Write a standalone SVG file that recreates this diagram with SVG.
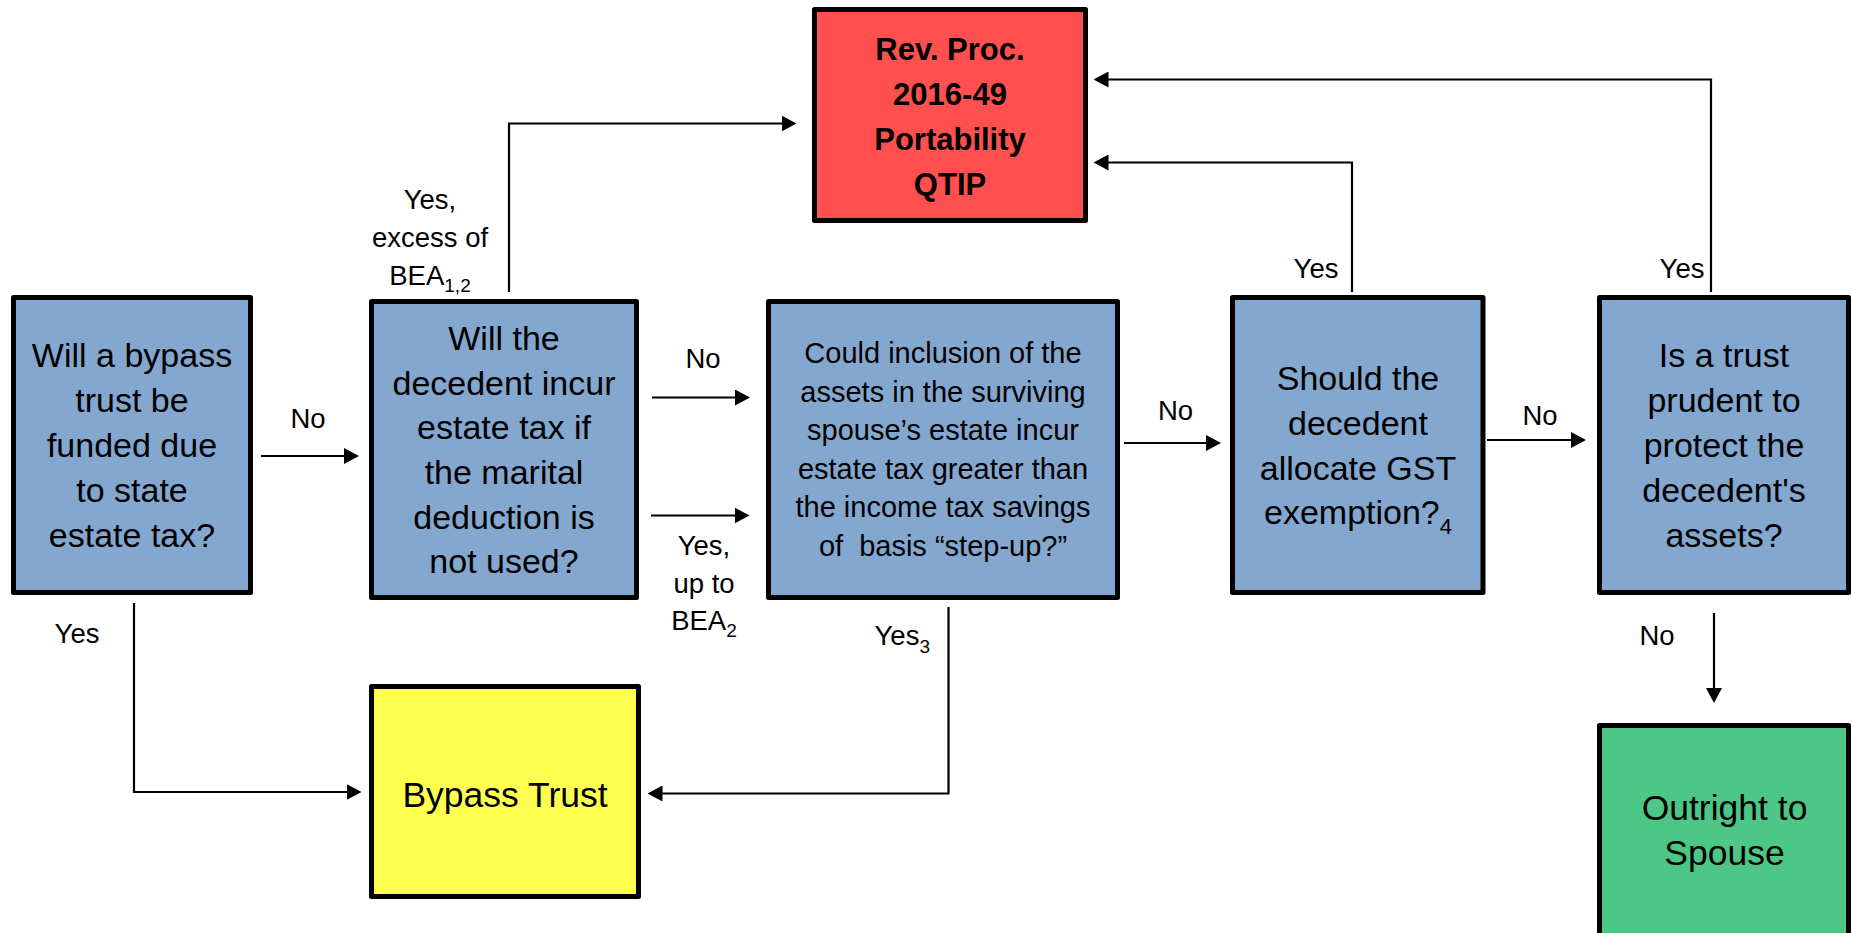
<svg xmlns="http://www.w3.org/2000/svg" width="1852" height="933" viewBox="0 0 1852 933">
<style>
.box{stroke:#000;stroke-width:5;stroke-linejoin:round}
.q{fill:#84A7CF}
.t{font-family:"Liberation Sans",Arial,sans-serif;fill:#000;text-anchor:middle}
.bt{font-size:34px}
.b3{font-size:29px}
.lb{font-size:27.5px}
.rd{font-size:31px;font-weight:bold}
.big{font-size:35.5px}
.con{fill:none;stroke:#000;stroke-width:2.2}
</style>
<defs>
<marker id="arr" markerWidth="15" markerHeight="16" refX="9" refY="8" orient="auto" markerUnits="userSpaceOnUse">
<path d="M0,0 L15,8 L0,16 z" fill="#000"/>
</marker>
</defs>
<rect width="1852" height="933" fill="#fff"/>

<g id="connectors">
<path class="con" marker-end="url(#arr)" d="M261,456 H353"/>
<path class="con" marker-end="url(#arr)" d="M652,397.5 H744"/>
<path class="con" marker-end="url(#arr)" d="M651,515.5 H743.5"/>
<path class="con" marker-end="url(#arr)" d="M1124,443 H1215"/>
<path class="con" marker-end="url(#arr)" d="M1487,440 H1580"/>
<path class="con" marker-end="url(#arr)" d="M509,292 V123.5 H790.5"/>
<path class="con" marker-end="url(#arr)" d="M1352,292 V162.5 H1099.5"/>
<path class="con" marker-end="url(#arr)" d="M1711,292 V79.5 H1099.5"/>
<path class="con" marker-end="url(#arr)" d="M134,603 V792 H355.5"/>
<path class="con" marker-end="url(#arr)" d="M948.5,607 V793.5 H653.5"/>
<path class="con" marker-end="url(#arr)" d="M1714,613 V697"/>
<g class="t lb">
<text x="308" y="428">No</text>
<text x="703" y="368">No</text>
<text x="704" y="555">Yes,</text>
<text x="704" y="592.5">up to</text>
<text x="704" y="630">BEA<tspan dy="7" font-size="19">2</tspan></text>
<text x="1175.5" y="420">No</text>
<text x="1540" y="425">No</text>
<text x="430" y="208.5">Yes,</text>
<text x="430" y="246.5">excess of</text>
<text x="430" y="285">BEA<tspan dy="7" font-size="19">1,2</tspan></text>
<text x="1316" y="278">Yes</text>
<text x="1682" y="278">Yes</text>
<text x="77" y="643">Yes</text>
<text x="930" y="645" style="text-anchor:end">Yes<tspan dy="8" font-size="19">3</tspan></text>
<text x="1657" y="645">No</text>
</g>
</g>

<g id="n1">
<rect class="box q" x="13.5" y="297.5" width="237" height="295"/>
<text class="t bt" x="132" y="367">Will a bypass</text>
<text class="t bt" x="132" y="412">trust be</text>
<text class="t bt" x="132" y="457">funded due</text>
<text class="t bt" x="132" y="502">to state</text>
<text class="t bt" x="132" y="547">estate tax?</text>
</g>

<g id="n2">
<rect class="box q" x="371.5" y="301.5" width="265" height="296"/>
<text class="t bt" x="504" y="350">Will the</text>
<text class="t bt" x="504" y="394.5">decedent incur</text>
<text class="t bt" x="504" y="439">estate tax if</text>
<text class="t bt" x="504" y="484">the marital</text>
<text class="t bt" x="504" y="528.5">deduction is</text>
<text class="t bt" x="504" y="573">not used?</text>
</g>

<g id="n3">
<rect class="box q" x="768.5" y="301.5" width="349" height="296"/>
<text class="t b3" x="943" y="363">Could inclusion of the</text>
<text class="t b3" x="943" y="401.6">assets in the surviving</text>
<text class="t b3" x="943" y="440">spouse’s estate incur</text>
<text class="t b3" x="943" y="478.6">estate tax greater than</text>
<text class="t b3" x="943" y="517">the income tax savings</text>
<text class="t b3" x="943" y="555.6" xml:space="preserve">of  basis “step-up?”</text>
</g>

<g id="n4">
<rect class="box q" x="1232.5" y="297.5" width="250.5" height="295"/>
<text class="t bt" x="1358" y="390">Should the</text>
<text class="t bt" x="1358" y="434.5">decedent</text>
<text class="t bt" x="1358" y="479.5">allocate GST</text>
<text class="t bt" x="1358" y="523.5">exemption?<tspan dy="10" font-size="22">4</tspan></text>
</g>

<g id="n5">
<rect class="box q" x="1599.5" y="297.5" width="249" height="295"/>
<text class="t bt" x="1724" y="367">Is a trust</text>
<text class="t bt" x="1724" y="412">prudent to</text>
<text class="t bt" x="1724" y="457">protect the</text>
<text class="t bt" x="1724" y="502">decedent's</text>
<text class="t bt" x="1724" y="547">assets?</text>
</g>

<g id="red">
<rect class="box" fill="#FF4F4F" x="814.5" y="9.5" width="271" height="211"/>
<text class="t rd" x="950" y="60">Rev. Proc.</text>
<text class="t rd" x="950" y="105">2016-49</text>
<text class="t rd" x="950" y="150">Portability</text>
<text class="t rd" x="950" y="195">QTIP</text>
</g>

<g id="yellow">
<rect class="box" fill="#FFFF4F" x="371.5" y="686.5" width="267" height="210"/>
<text class="t big" x="505" y="806.5">Bypass Trust</text>
</g>

<g id="green">
<rect class="box" fill="#4CC785" x="1599.5" y="725.5" width="249" height="230"/>
<text class="t big" x="1724.5" y="820">Outright to</text>
<text class="t big" x="1724.5" y="865">Spouse</text>
</g>
</svg>
